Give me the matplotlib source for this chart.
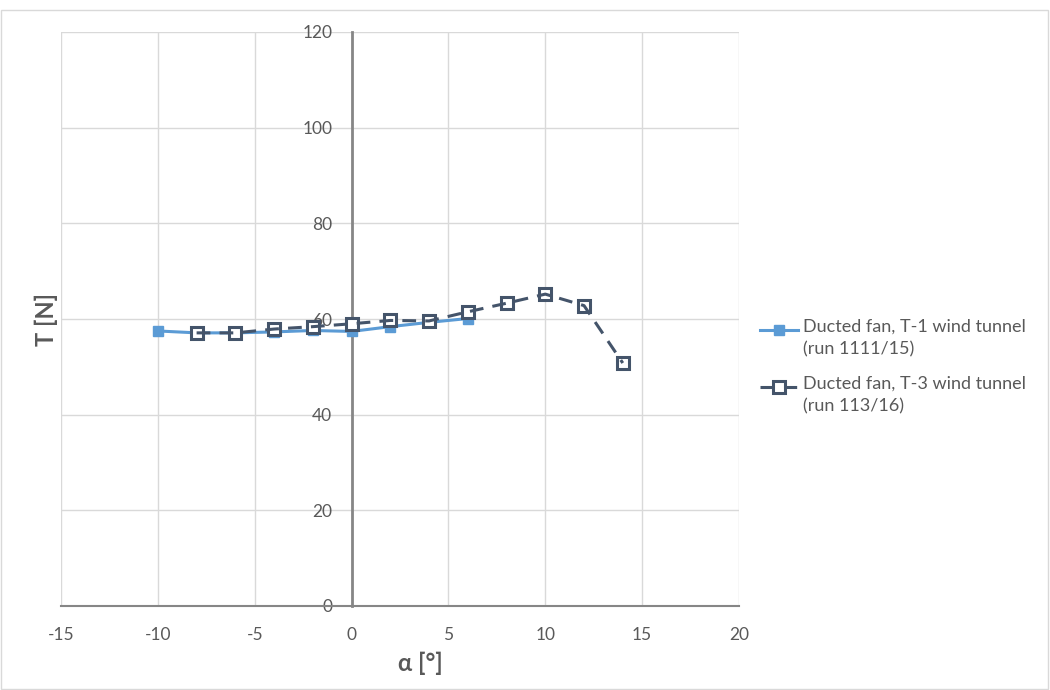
"""Thrust vs angle of attack, ducted fan in two wind tunnels."""
import matplotlib
matplotlib.use("Agg")
import matplotlib.pyplot as plt
from matplotlib.lines import Line2D
from matplotlib.patches import Rectangle

plt.rcParams["font.family"] = ["Lato", "DejaVu Sans"]
plt.rcParams["axes.unicode_minus"] = False

# ---- data ----
alpha_t1 = [-10, -8, -6, -4, -2, 0, 2, 4, 6]
thrust_t1 = [57.5, 57.1, 57.1, 57.3, 57.6, 57.4, 58.4, 59.3, 60.1]

alpha_t3 = [-8, -6, -4, -2, 0, 2, 4, 6, 8, 10, 12, 14]
thrust_t3 = [57.1, 57.1, 57.9, 58.4, 59.0, 59.7, 59.6, 61.5, 63.3, 65.2, 62.8, 50.8]

xticks = [-15, -10, -5, 0, 5, 10, 15, 20]
yticks = [0, 20, 40, 60, 80, 100, 120]

label_t1 = "Ducted fan, T-1 wind tunnel\n(run 1111/15)"
label_t3 = "Ducted fan, T-3 wind tunnel\n(run 113/16)"

# ---- palette ----
C1 = "#5b9bd5"
C3 = "#44546a"
GRID = "#d9d9d9"
AXIS = "#868686"
TXT = "#595959"

W, H = 1050, 690
fig = plt.figure(figsize=(10.5, 6.9), dpi=100)
ax = fig.add_axes([61 / W, 84 / H, 678 / W, 574 / H])

# outer chart border
fig.add_artist(Rectangle((0.001, 0.001), 0.997, 0.984, transform=fig.transFigure,
                         fill=False, ec=GRID, lw=1))

ax.set_xlim(-15, 20)
ax.set_ylim(0, 120)
ax.set_xticks(xticks)
ax.set_yticks(yticks)
ax.grid(True, color=GRID, lw=1)
ax.set_axisbelow(True)

for s in ("top", "right"):
    ax.spines[s].set_visible(False)
ax.spines["left"].set_position(("data", 0))
ax.spines["bottom"].set_position(("data", 0))
ax.spines["left"].set_color(AXIS)
ax.spines["left"].set_linewidth(2)
ax.spines["bottom"].set_color(AXIS)
ax.spines["bottom"].set_linewidth(1.5)
ax.spines["left"].set_zorder(1.5)

ax.tick_params(length=0, labelsize=12.5, labelcolor=TXT)
ax.tick_params(axis="y", pad=14)
ax.tick_params(axis="x", pad=15)

t1_style = dict(color=C1, lw=2.2, marker="s", ms=7.5, mfc=C1, mec=C1)
t3_mark = dict(marker="s", ms=9, mfc="white", mec=C3, mew=2.2)
t3_line = dict(color=C3, lw=2.2, ls=(0, (4.5, 3)))

# T-1: solid line with filled squares
ax.plot(alpha_t1, thrust_t1, zorder=3, **t1_style)

# T-3: open squares, dashed line drawn on top
ax.plot(alpha_t3, thrust_t3, ls="none", zorder=4, **t3_mark)
ax.plot(alpha_t3, thrust_t3, zorder=5, **t3_line)

ax.set_xlabel("α [°]", fontsize=17, fontweight="bold", color=TXT)
ax.set_ylabel("T [N]", fontsize=17, fontweight="bold", color=TXT)
ax.xaxis.set_label_coords(0.53, -0.08)
ax.yaxis.set_label_coords(-0.004, 0.5)

# ---- legend (hand placed, Excel-like spacing) ----
def fy(py):
    return 1 - py / H

for label, y0, kind in ((label_t1, 330, 1), (label_t3, 387, 3)):
    xs = [760 / W, 798 / W]
    if kind == 1:
        fig.add_artist(Line2D(xs, [fy(y0)] * 2, transform=fig.transFigure, color=C1, lw=2.2))
        fig.add_artist(Line2D([779 / W], [fy(y0)], transform=fig.transFigure,
                              ls="none", marker="s", ms=7.5, mfc=C1, mec=C1))
    else:
        fig.add_artist(Line2D(xs, [fy(y0)] * 2, transform=fig.transFigure, **t3_line))
        fig.add_artist(Line2D([779 / W], [fy(y0)], transform=fig.transFigure,
                              ls="none", **t3_mark))
    fig.text(803 / W, fy(y0 - 11), label, ha="left", va="top", fontsize=13,
             color=TXT, linespacing=1.5)

plt.savefig("out.png", dpi=100)
